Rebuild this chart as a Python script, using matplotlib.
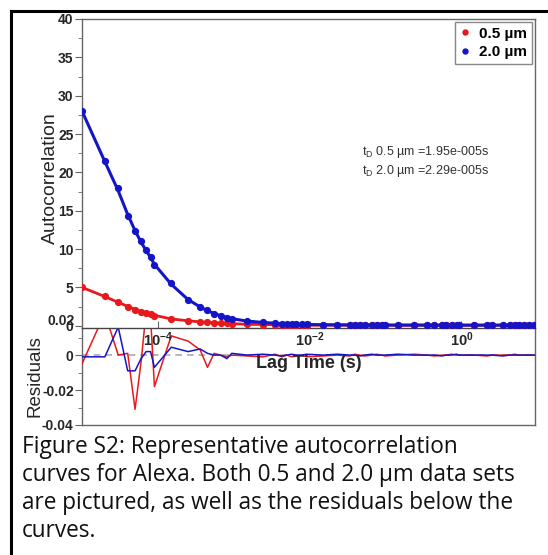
import matplotlib
matplotlib.use('Agg')
import matplotlib.pyplot as plt
import matplotlib.ticker as ticker
from matplotlib.lines import Line2D
from matplotlib.transforms import blended_transform_factory

plt.rcParams['font.family'] = ['Liberation Sans', 'DejaVu Sans']
plt.rcParams['mathtext.fontset'] = 'custom'
plt.rcParams['mathtext.rm'] = 'Liberation Sans'
plt.rcParams['mathtext.it'] = 'Liberation Sans:italic'
plt.rcParams['mathtext.bf'] = 'Liberation Sans:bold'

# lag times (s)
lag = [1.0e-5, 2.0e-5, 3.0e-5, 4.0e-5, 5.0e-5, 6.0e-5, 7.0e-5, 8.0e-5, 9.0e-5,
       1.5e-4, 2.5e-4, 3.6e-4, 4.5e-4, 5.5e-4, 6.7e-4, 8.1e-4, 9.4e-4,
       1.5e-3, 2.4e-3, 3.5e-3, 4.3e-3, 5.0e-3, 5.8e-3, 6.7e-3, 7.8e-3, 9.1e-3,
       1.5e-2, 2.3e-2, 3.4e-2, 3.9e-2, 4.6e-2, 5.3e-2, 6.6e-2, 7.6e-2, 8.9e-2, 9.8e-2,
       0.144, 0.24, 0.35, 0.44, 0.55, 0.63, 0.74, 0.86, 0.93,
       1.48, 2.2, 2.5, 3.5, 4.3, 5.0, 5.8, 6.7, 7.8, 9.1]

# 0.5 um data, fit, residuals
g_05 = [5.0, 3.85, 3.05, 2.5, 2.1, 1.85, 1.7, 1.5, 1.25,
        0.9, 0.65, 0.5, 0.45, 0.38, 0.33, 0.29, 0.26,
        0.2, 0.15, 0.12, 0.11, 0.1, 0.09, 0.08, 0.08, 0.07,
        0.06, 0.06, 0.06, 0.06, 0.06, 0.06, 0.06, 0.06, 0.06, 0.06,
        0.05, 0.05, 0.05, 0.05, 0.05, 0.05, 0.05, 0.05, 0.05,
        0.05, 0.05, 0.05, 0.05, 0.05, 0.05, 0.05, 0.05, 0.05, 0.05]
fit_05 = [5.0, 3.8, 3.05, 2.52, 2.14, 1.88, 1.67, 1.5, 1.36,
          0.88, 0.64, 0.5, 0.43, 0.38, 0.33, 0.29, 0.26,
          0.19, 0.15, 0.12, 0.11, 0.1, 0.09, 0.08, 0.08, 0.07,
          0.06, 0.06, 0.06, 0.06, 0.06, 0.06, 0.06, 0.06, 0.06, 0.06,
          0.05, 0.05, 0.05, 0.05, 0.05, 0.05, 0.05, 0.05, 0.05,
          0.05, 0.05, 0.05, 0.05, 0.05, 0.05, 0.05, 0.05, 0.05, 0.05]
res_05 = [-0.005, 0.024, 0.0, 0.001, -0.031, -0.004, 0.025, 0.022, -0.018,
          0.011, 0.008, 0.003, -0.007, 0.001, 0.0, -0.001, 0.0,
          -0.0005, -0.001, 0.0005, -0.001, 0.0, -0.001, -0.0005, 0.0, -0.001,
          -0.0005, 0.0, -0.0005, 0.0005, 0.0, -0.0005, 0.0, 0.0005, 0.0, -0.0005,
          0.0, 0.0005, 0.0, -0.0005, 0.0, 0.0, 0.0005, 0.0, 0.0,
          0.0, -0.0005, 0.0, 0.0, 0.0, 0.0005, 0.0, 0.0, 0.0, 0.0]

# 2.0 um data, fit, residuals
g_20 = [28.0, 21.5, 18.0, 14.3, 12.3, 11.0, 9.9, 8.9, 7.9,
        5.6, 3.4, 2.5, 2.0, 1.55, 1.3, 1.05, 0.9,
        0.6, 0.45, 0.32, 0.27, 0.24, 0.21, 0.19, 0.17, 0.16,
        0.13, 0.12, 0.11, 0.11, 0.1, 0.1, 0.1, 0.09, 0.09, 0.09,
        0.09, 0.09, 0.09, 0.08, 0.08, 0.08, 0.08, 0.08, 0.08,
        0.08, 0.08, 0.08, 0.08, 0.08, 0.08, 0.08, 0.08, 0.08, 0.08]
fit_20 = [28.0, 21.4, 17.6, 14.5, 12.4, 10.9, 9.8, 8.9, 8.0,
          5.4, 3.4, 2.45, 1.95, 1.6, 1.3, 1.07, 0.92,
          0.6, 0.43, 0.32, 0.27, 0.24, 0.21, 0.19, 0.17, 0.16,
          0.13, 0.12, 0.11, 0.11, 0.1, 0.1, 0.1, 0.09, 0.09, 0.09,
          0.09, 0.09, 0.09, 0.08, 0.08, 0.08, 0.08, 0.08, 0.08,
          0.08, 0.08, 0.08, 0.08, 0.08, 0.08, 0.08, 0.08, 0.08, 0.08]
res_20 = [-0.001, -0.001, 0.016, -0.009, -0.009, -0.002, 0.002, 0.002, -0.007,
          0.0045, 0.002, 0.0035, 0.001, 0.0, 0.0, -0.002, 0.001,
          0.0, 0.0005, 0.0, -0.0005, 0.0, 0.0005, 0.0, 0.0, 0.0005,
          0.0, 0.0005, 0.0, 0.0, -0.0005, 0.0, 0.0005, 0.0, 0.0, 0.0,
          0.0005, 0.0, 0.0, 0.0, -0.0005, 0.0, 0.0, 0.0005, 0.0,
          0.0, 0.0, 0.0, -0.0005, 0.0, 0.0, 0.0, 0.0, 0.0, 0.0]

x_ticks = [1e-4, 1e-2, 1e0]
x_ticklabels = [r'$\mathbf{10^{-4}}$', r'$\mathbf{10^{-2}}$', r'$\mathbf{10^{0}}$']

caption = ('Figure S2: Representative autocorrelation\n'
           'curves for Alexa. Both 0.5 and 2.0 \u00b5m data sets\n'
           'are pictured, as well as the residuals below the\n'
           'curves.')

RED = '#e8191c'
BLUE = '#1515c8'
SPINE = '#666666'
TXT = '#262626'

W, H = 548, 555
fig = plt.figure(figsize=(W / 100, H / 100), dpi=100)
fig.patch.set_facecolor('white')

L, R = 82, 535
ax = fig.add_axes([L / W, 1 - 328 / H, (R - L) / W, (328 - 19) / H])
axr = fig.add_axes([L / W, 1 - 425 / H, (R - L) / W, (425 - 328) / H], sharex=ax)
# main axes above the residual panel so its tick labels are not hidden
ax.set_zorder(3)
ax.patch.set_alpha(0)

# main panel
ax.plot(lag, fit_05, '-', color=RED, lw=2.0, zorder=3)
ax.plot(lag, g_05, 'o', color=RED, ms=4.2, zorder=4, label='0.5 \u00b5m')
ax.plot(lag, fit_20, '-', color=BLUE, lw=2.2, zorder=5)
ax.plot(lag, g_20, 'o', color=BLUE, ms=4.2, zorder=6, label='2.0 \u00b5m')

ax.set_xscale('log')
ax.set_xlim(1e-5, 9.3)
ax.set_ylim(-0.3, 40)
ax.xaxis.set_major_locator(ticker.FixedLocator(x_ticks))
ax.xaxis.set_major_formatter(ticker.FixedFormatter(x_ticklabels))
ax.xaxis.set_minor_locator(ticker.NullLocator())
ax.yaxis.set_major_locator(ticker.MultipleLocator(5))
ax.yaxis.set_minor_locator(ticker.MultipleLocator(2.5))
ax.tick_params(axis='x', direction='in', length=5, pad=2, colors=SPINE,
               labelcolor=TXT, labelsize=10.5)
ax.tick_params(axis='y', which='major', direction='out', length=5, pad=1,
               colors=SPINE, labelcolor=TXT, labelsize=10)
ax.tick_params(axis='y', which='minor', direction='out', length=3, colors=SPINE)
for lab in ax.get_yticklabels():
    lab.set_fontweight('bold')
for s in ax.spines.values():
    s.set_color(SPINE)
    s.set_linewidth(1.0)
ax.spines['bottom'].set_color('#444444')

ax.set_ylabel('Autocorrelation', fontsize=14, color=TXT)
ax.yaxis.set_label_coords(-0.05, 0.485)
ax.set_xlabel('Lag Time (s)', fontsize=13, fontweight='bold', color=TXT)
ax.xaxis.set_label_coords(0.5, -0.088)

leg = ax.legend(loc='upper right', prop={'weight': 'bold', 'size': 11},
                frameon=True, fancybox=False, edgecolor='#888888',
                handlelength=0.7, handletextpad=0.6, borderpad=0.3,
                labelspacing=0.3, markerscale=0.85, borderaxespad=0.2,
                framealpha=1)
leg.get_frame().set_linewidth(1.0)

ax.text(0.618, 0.595, 't$_\\mathregular{D}$ 0.5 \u00b5m =1.95e-005s\n'
        't$_\\mathregular{D}$ 2.0 \u00b5m =2.29e-005s',
        transform=ax.transAxes, fontsize=9, color='#333333',
        va='top', ha='left', linespacing=1.3)

# residual panel
axr.axhline(0, color='#aaaaaa', lw=1.2, ls=(0, (4, 3)), zorder=1)
axr.plot(lag, res_05, '-', color=RED, lw=1.1, zorder=3)
axr.plot(lag, res_20, '-', color=BLUE, lw=1.1, zorder=4)
axr.set_ylim(-0.04, 0.0155)
axr.yaxis.set_major_locator(ticker.FixedLocator([-0.04, -0.02, 0.0]))
axr.yaxis.set_major_formatter(ticker.FixedFormatter(['-0.04', '-0.02', '0']))
axr.yaxis.set_minor_locator(ticker.FixedLocator([-0.03, -0.01, 0.01]))
axr.tick_params(axis='x', which='both', bottom=False, labelbottom=False)
axr.tick_params(axis='y', which='major', direction='out', length=5, pad=1,
                colors=SPINE, labelcolor=TXT, labelsize=10)
axr.tick_params(axis='y', which='minor', direction='out', length=3, colors=SPINE)
for lab in axr.get_yticklabels():
    lab.set_fontweight('bold')
for s in axr.spines.values():
    s.set_color(SPINE)
    s.set_linewidth(1.0)
axr.spines['top'].set_visible(False)
axr.set_ylabel('Residuals', fontsize=13.5, color=TXT)
axr.yaxis.set_label_coords(-0.085, 0.5)

# the 0.02 label sits above the residual panel and overlaps the main "0"
trans = blended_transform_factory(axr.transAxes, axr.transData)
axr.text(-0.017, 0.0195, '0.02', transform=trans, ha='right', va='center',
         fontsize=10, fontweight='bold', color=TXT, clip_on=False)

# caption
fig.text(22 / W, 1 - 435 / H, caption, fontsize=16.3, family='Open Sans',
         color='#111111', va='top', ha='left', linespacing=1.23)

# black frame on the left and top
fig.add_artist(Line2D([11 / W, 11 / W], [0, 1 - 11 / H], color='black', lw=2.2,
                      transform=fig.transFigure))
fig.add_artist(Line2D([11 / W, 1], [1 - 11 / H, 1 - 11 / H], color='black', lw=2.2,
                      transform=fig.transFigure))

fig.savefig('out.png', dpi=100)
